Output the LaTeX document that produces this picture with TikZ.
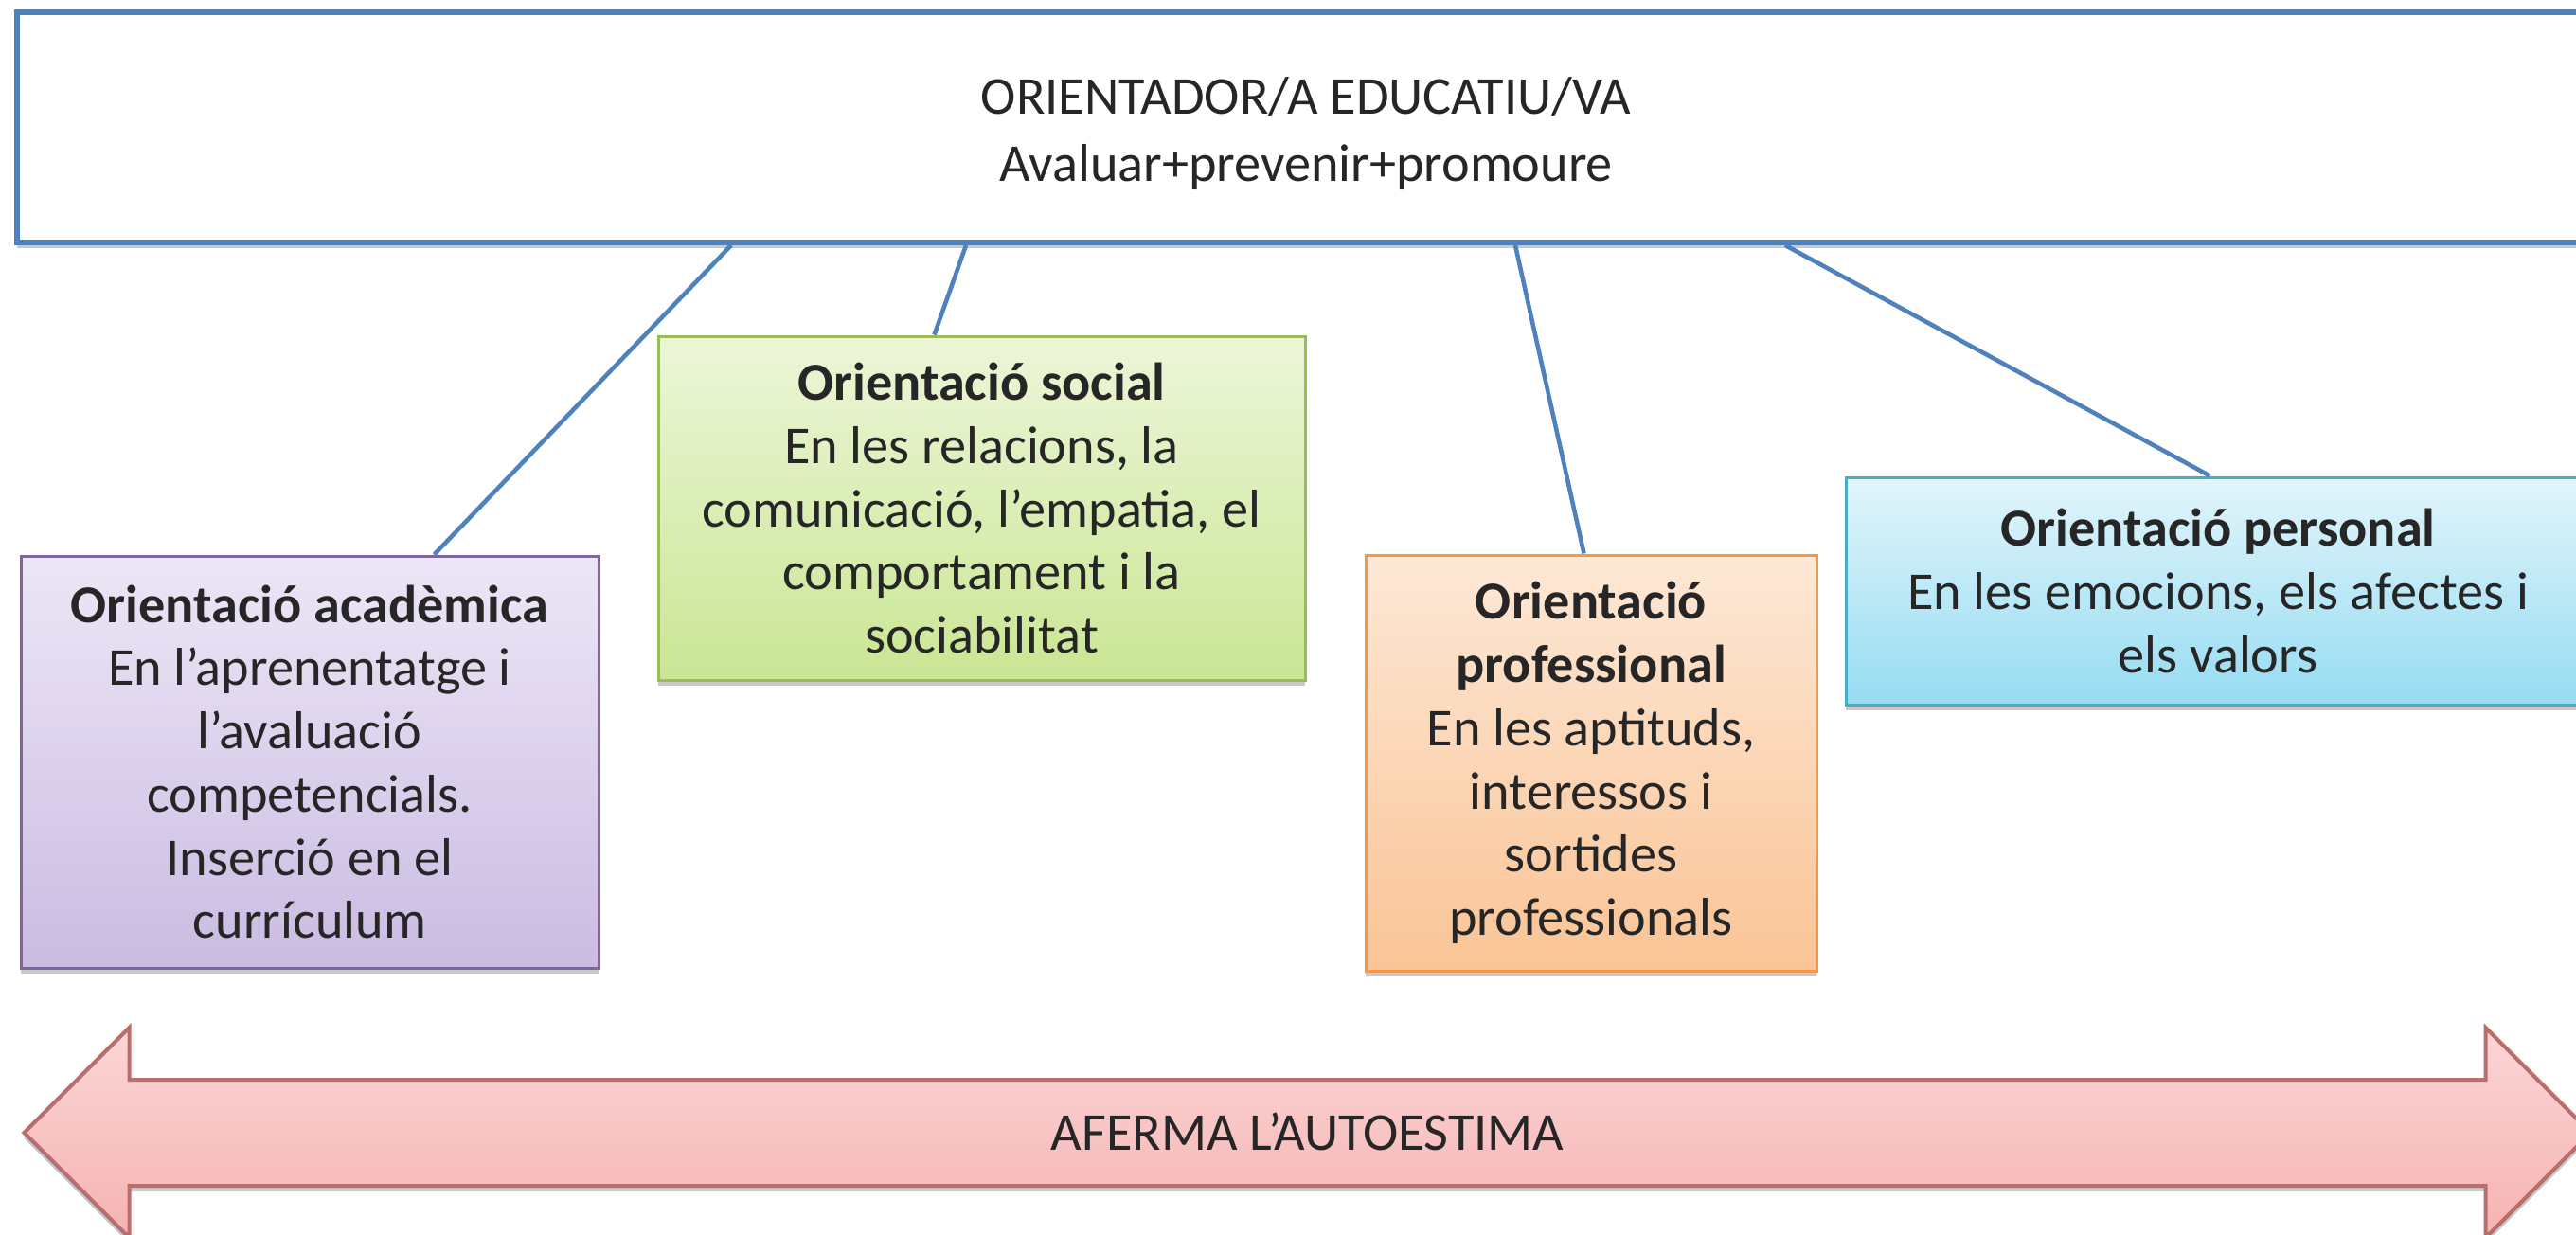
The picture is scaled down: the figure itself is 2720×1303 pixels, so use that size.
\documentclass[tikz,border=0pt]{standalone}
\usepackage{fontspec}
\setmainfont{Carlito}
\usetikzlibrary{shapes,arrows,shadows}
\definecolor{topblue}{RGB}{79,129,189}
\definecolor{acaborder}{RGB}{128,100,162}
\definecolor{socborder}{RGB}{155,187,89}
\definecolor{proborder}{RGB}{247,150,70}
\definecolor{perborder}{RGB}{75,172,198}
\definecolor{autborder}{RGB}{185,110,108}
\tikzstyle{block}    = [rectangle,
                        draw,
                        align=center,
                        text=black!85,
                        line width=0.3mm,
                        inner sep=1mm,
                        font=\fontsize{16}{19}\selectfont,
                        drop shadow={shadow xshift=0mm, shadow yshift=-0.6mm,
                                     opacity=0.3, fill=black!70}]
\tikzstyle{line}     = [draw, topblue, line width=1.3pt]

\begin{document}
\begin{tikzpicture}[%
  x=0.1mm,
  y=-0.1mm,
  % Header box:
  header/.style={%
    block,
    draw=topblue,
    fill=white,
    line width=0.6mm,
    minimum width=272.2mm,
    minimum height=24.3mm,
    font=\fontsize{16}{20}\selectfont
  }
  ]
  \useasboundingbox (0,0) rectangle (2720,1303);

  % Nodes:
  \node (o-top) [header] at (1379,134.5) {\rule{0pt}{5.2mm}ORIENTADOR/A EDUCATIU/VA\\Avaluar+prevenir+promoure};

  \node (o-academica) [block, draw=acaborder, top color={rgb,255:red,237;green,230;blue,246}, bottom color={rgb,255:red,202;green,188;blue,226}, minimum width=61mm, minimum height=43.5mm] at (327,804.5) {\textbf{Orientació acadèmica}\\En l’aprenentatge i\\l’avaluació\\competencials.\\Inserció en el\\currículum};
  \node (o-social) [block, draw=socborder, top color={rgb,255:red,236;green,246;blue,216}, bottom color={rgb,255:red,202;green,230;blue,148}, minimum width=68.3mm, minimum height=36.3mm] at (1036.5,536.5) {\textbf{Orientació social}\\En les relacions, la\\comunicació, l’empatia, el\\comportament i la\\sociabilitat};
  \node (o-professional) [block, draw=proborder, top color={rgb,255:red,253;green,232;blue,214}, bottom color={rgb,255:red,250;green,196;blue,150}, minimum width=47.6mm, minimum height=43.9mm] at (1680,805.5) {\textbf{Orientació}\\\textbf{professional}\\En les aptituds,\\interessos i\\sortides\\professionals};
  \node (o-personal) [block, draw=perborder, top color={rgb,255:red,226;green,245;blue,251}, bottom color={rgb,255:red,150;green,220;blue,242}, minimum width=78.6mm, minimum height=24mm] at (2342,624) {\textbf{Orientació personal}\\En les emocions, els afectes i\\els valors};

  \node (o-autoestima) [double arrow, draw=autborder, line width=0.4mm, double arrow head extend=5.5mm, text height=7.2mm, text depth=3.6mm, minimum height=271mm, inner sep=0pt, top color={rgb,255:red,251;green,214;blue,214}, bottom color={rgb,255:red,246;green,178;blue,178}, text=black!85, font=\fontsize{16}{19}\selectfont, drop shadow={shadow xshift=0mm, shadow yshift=-0.6mm, opacity=0.3, fill=black!70}] at (1380.5,1196) {AFERMA L’AUTOESTIMA};

  % Connectors:
  \draw[line] ([xshift=75.7mm]o-top.south west) -- ([xshift=43.8mm]o-academica.north west);
  \draw[line] ([xshift=100.5mm]o-top.south west) -- ([xshift=29.3mm]o-social.north west);
  \draw[line] ([xshift=158.5mm]o-top.south west) -- ([xshift=23.2mm]o-professional.north west);
  \draw[line] ([xshift=187mm]o-top.south west) -- ([xshift=38.6mm]o-personal.north west);
\end{tikzpicture}
\end{document}
